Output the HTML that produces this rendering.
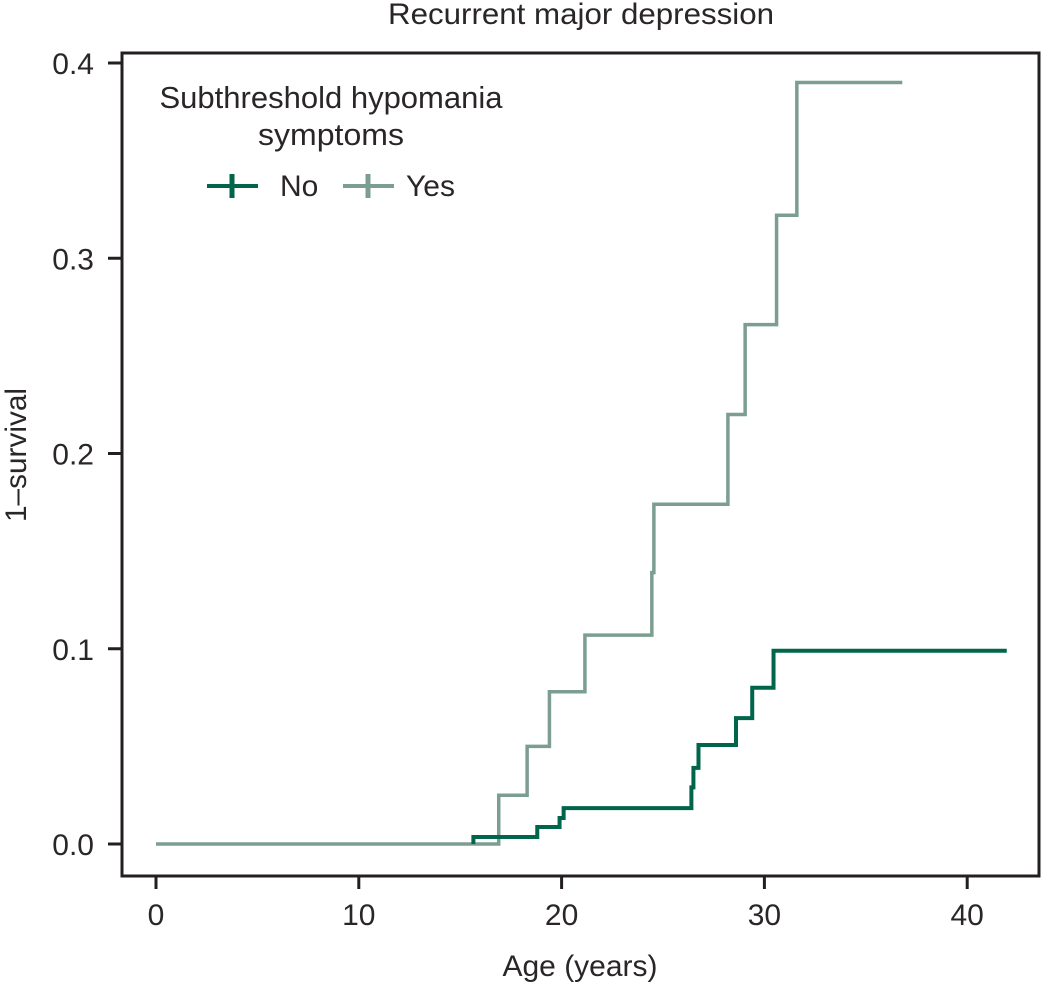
<!DOCTYPE html>
<html><head><meta charset="utf-8"><style>
html,body{margin:0;padding:0;background:#fff}
svg{display:block}
text{font-family:"Liberation Sans","DejaVu Sans",sans-serif;fill:#2a2627}
</style></head><body>
<svg id="chart" width="1041" height="983" viewBox="0 0 1041 983">
<text x="581" y="24" font-size="30" text-anchor="middle" textLength="386" lengthAdjust="spacingAndGlyphs">Recurrent major depression</text>
<rect x="122" y="53" width="917" height="823" fill="none" stroke="#231f20" stroke-width="3"/>
<g id="xaxis"></g>
<g id="yaxis"></g>
<text x="580" y="976" font-size="30" text-anchor="middle" textLength="155" lengthAdjust="spacingAndGlyphs">Age (years)</text>
<text x="0" y="0" font-size="30" text-anchor="middle" textLength="134" lengthAdjust="spacingAndGlyphs" transform="translate(26,455) rotate(-90)">1–survival</text>
<g id="series"></g>
<g>
<text x="331" y="108" font-size="31" text-anchor="middle" textLength="343" lengthAdjust="spacingAndGlyphs">Subthreshold hypomania</text>
<text x="331" y="145" font-size="31" text-anchor="middle" textLength="146" lengthAdjust="spacingAndGlyphs">symptoms</text>
<g>
<line x1="207" y1="186" x2="258" y2="186" stroke="#00654a" stroke-width="4"/>
<line x1="232" y1="174" x2="232" y2="198" stroke="#00654a" stroke-width="5"/>
<text x="280" y="196" font-size="30">No</text></g>
<g>
<line x1="343" y1="186" x2="394" y2="186" stroke="#7c9e91" stroke-width="4"/>
<line x1="368" y1="174" x2="368" y2="198" stroke="#7c9e91" stroke-width="5"/>
<text x="406" y="196" font-size="30">Yes</text></g>
</g>
</svg>
<script>
const xTicks=[0,10,20,30,40];
const yTicks=[0.0,0.1,0.2,0.3,0.4];
const yTickLabels=["0.0","0.1","0.2","0.3","0.4"];
const yesTimes=[0,16.9,18.3,19.4,21.15,24.45,24.55,28.2,29.05,30.6,31.6];
const yesValues=[0,0.025,0.05,0.078,0.107,0.139,0.174,0.22,0.266,0.322,0.39];
const yesEnd=36.8;
const noTimes=[15.65,15.65,18.8,19.9,20.1,26.4,26.5,26.75,28.6,29.4,30.45];
const noValues=[0,0.0036,0.0087,0.0133,0.0184,0.029,0.039,0.0507,0.0645,0.08,0.099];
const noEnd=41.95;
const NS="http://www.w3.org/2000/svg";
const sx=v=>156+v*20.28;
const sy=v=>844-v*1952.5;
const xa=document.getElementById('xaxis'),ya=document.getElementById('yaxis'),sg=document.getElementById('series');
xTicks.forEach(t=>{
 const l=document.createElementNS(NS,'line');
 
 
 l.setAttribute('x1',sx(t));l.setAttribute('x2',sx(t));l.setAttribute('y1',877);l.setAttribute('y2',889);
 l.setAttribute('stroke','#231f20');l.setAttribute('stroke-width',3);xa.appendChild(l);
 const tx=document.createElementNS(NS,'text');
 
 
 tx.setAttribute('x',sx(t));tx.setAttribute('y',925);tx.setAttribute('font-size',30);tx.setAttribute('text-anchor','middle');
 tx.textContent=t;xa.appendChild(tx);
});
yTicks.forEach((t,i)=>{
 const l=document.createElementNS(NS,'line');
 
 
 l.setAttribute('x1',108);l.setAttribute('x2',122);l.setAttribute('y1',sy(t));l.setAttribute('y2',sy(t));
 l.setAttribute('stroke','#231f20');l.setAttribute('stroke-width',3);ya.appendChild(l);
 const tx=document.createElementNS(NS,'text');
 
 
 tx.setAttribute('x',94);tx.setAttribute('y',sy(t)+11);tx.setAttribute('font-size',30);tx.setAttribute('text-anchor','end');
 tx.textContent=yTickLabels[i];ya.appendChild(tx);
});
function stepPath(ts,vs,end){
 let d='M'+sx(ts[0])+','+sy(vs[0]);
 for(let i=1;i<ts.length;i++){d+=' H'+sx(ts[i])+' V'+sy(vs[i]);}
 return d+' H'+sx(end);
}
const py=document.createElementNS(NS,'path');


py.setAttribute('d',stepPath(yesTimes,yesValues,yesEnd));
py.setAttribute('fill','none');py.setAttribute('stroke','#7c9e91');py.setAttribute('stroke-width',3.5);
sg.appendChild(py);
const pn=document.createElementNS(NS,'path');


pn.setAttribute('d',stepPath(noTimes,noValues,noEnd));
pn.setAttribute('fill','none');pn.setAttribute('stroke','#00654a');pn.setAttribute('stroke-width',4);
sg.appendChild(pn);
</script>
</body></html>
